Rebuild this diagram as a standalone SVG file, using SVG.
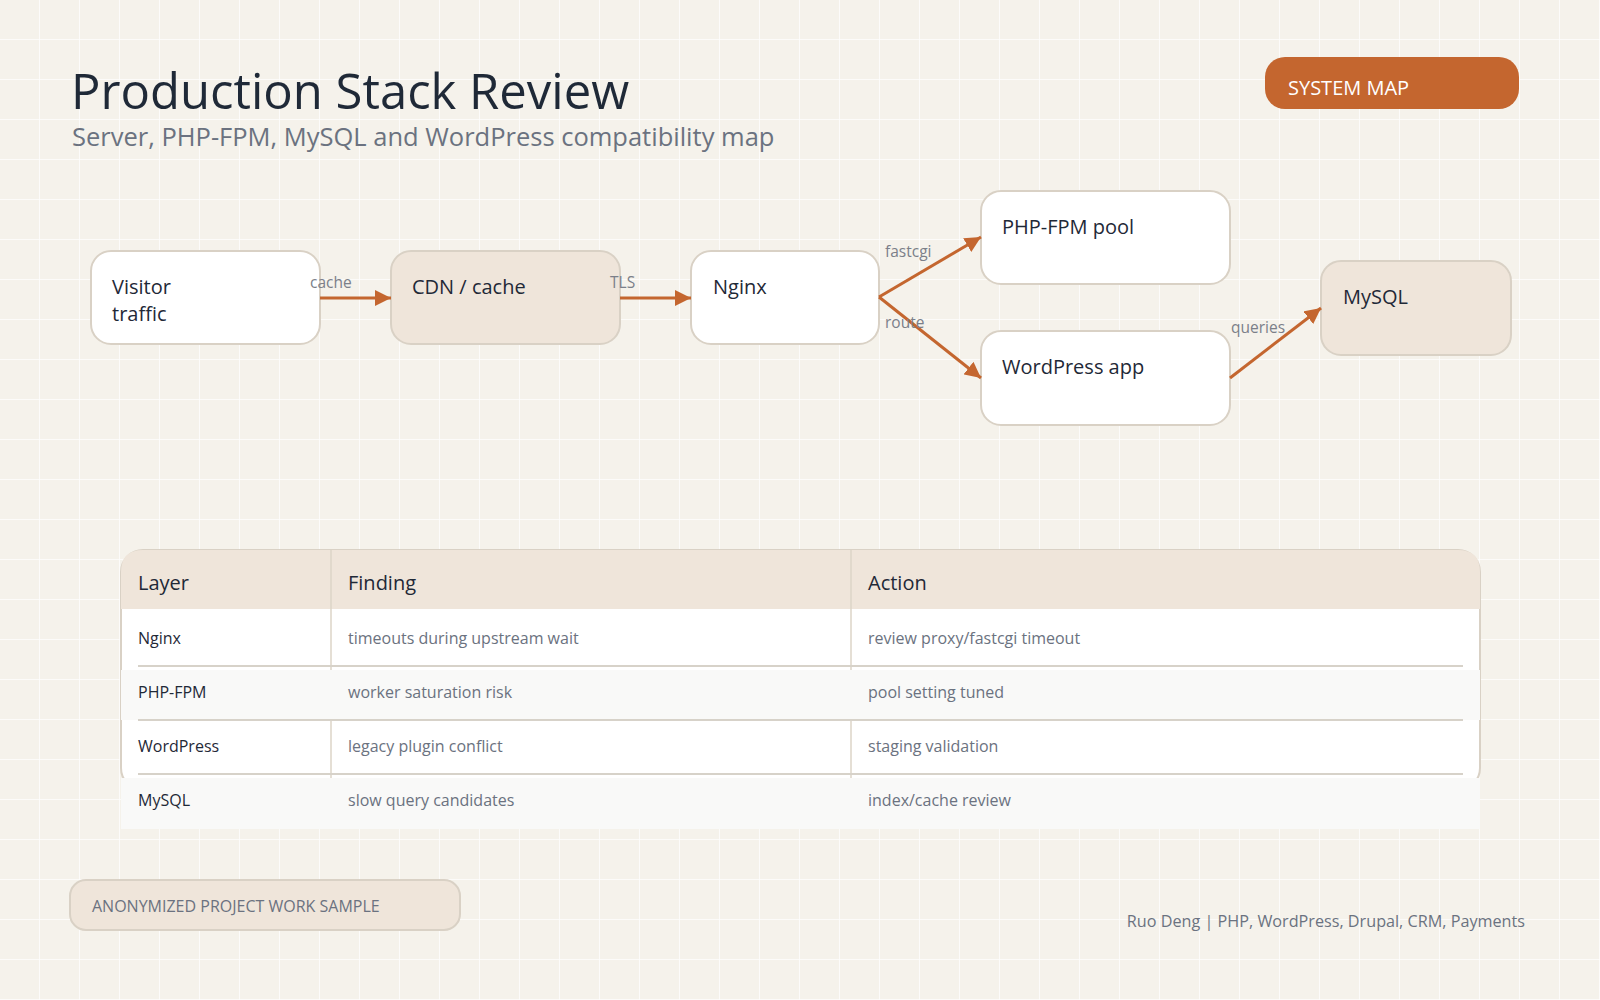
<svg xmlns="http://www.w3.org/2000/svg" width="1600" height="1000" viewBox="0 0 1600 1000">
<defs>
<pattern id="grid" x="0" y="0" width="40" height="40" patternUnits="userSpaceOnUse">
<path d="M40 0 V40 M0 40 H40" fill="none" stroke="#ffffff" stroke-width="1.6" opacity="0.9"/>
</pattern>
<marker id="arr" viewBox="0 0 10 10" refX="10" refY="5" markerWidth="16" markerHeight="16" markerUnits="userSpaceOnUse" orient="auto">
<path d="M0 0 L10 5 L0 10 z" fill="#c4662f"/>
</marker>
<style>
text{font-family:"Open Sans","Noto Sans","DejaVu Sans",sans-serif}
.node{stroke:#d9d1c5;stroke-width:2}
.w{fill:#ffffff}
.t{fill:#efe5da}
.nl{font-size:20px;fill:#1f2937}
.el{font-size:15.5px;fill:#7b7f89}
.edge{stroke:#c4662f;stroke-width:3;fill:none;marker-end:url(#arr)}
.th{font-size:20px;fill:#1f2937}
.c1{font-size:16px;fill:#1f2937}
.c2{font-size:16px;fill:#6b7280}
.sep{stroke:#d7d2c9;stroke-width:2}
.div{stroke:#ddd4c7;stroke-width:1.5}
</style>
</defs>
<rect width="1600" height="1000" fill="#f5f2eb"/>
<rect width="1600" height="1000" fill="url(#grid)"/>

<g id="header">
<text x="71" y="109" font-size="49" fill="#1f2937">Production Stack Review</text>
<text x="72" y="146" font-size="25.5" fill="#6b7280">Server, PHP-FPM, MySQL and WordPress compatibility map</text>
</g>
<g id="badge">
<rect x="1265" y="57" width="254" height="52" rx="20" fill="#c4662f"/>
<text x="1288" y="95" font-size="20" fill="#ffffff">SYSTEM MAP</text>
</g>

<g id="n-visitor">
<rect class="node w" x="91" y="251" width="229" height="93" rx="20"/>
<text class="nl" x="112" y="294">Visitor</text>
<text class="nl" x="112" y="321">traffic</text>
</g>
<g id="n-cdn">
<rect class="node t" x="391" y="251" width="229" height="93" rx="20"/>
<text class="nl" x="412" y="294">CDN / cache</text>
</g>
<g id="n-nginx">
<rect class="node w" x="691" y="251" width="188" height="93" rx="20"/>
<text class="nl" x="713" y="294">Nginx</text>
</g>
<g id="n-phpfpm">
<rect class="node w" x="981" y="191" width="249" height="93" rx="20"/>
<text class="nl" x="1002" y="234">PHP-FPM pool</text>
</g>
<g id="n-wordpress">
<rect class="node w" x="981" y="331" width="249" height="94" rx="20"/>
<text class="nl" x="1002" y="374">WordPress app</text>
</g>
<g id="n-mysql">
<rect class="node t" x="1321" y="261" width="190" height="94" rx="20"/>
<text class="nl" x="1343" y="304">MySQL</text>
</g>

<g id="connectors">
<line class="edge" x1="320" y1="298" x2="391" y2="298"/>
<line class="edge" x1="620" y1="298" x2="691" y2="298"/>
<line class="edge" x1="879" y1="297" x2="981" y2="237"/>
<line class="edge" x1="879" y1="297" x2="981" y2="378"/>
<line class="edge" x1="1230" y1="378" x2="1321" y2="308"/>
<text class="el" x="310" y="288">cache</text>
<text class="el" x="610" y="288">TLS</text>
<text class="el" x="885" y="257">fastcgi</text>
<text class="el" x="885" y="328">route</text>
<text class="el" x="1231" y="333">queries</text>
</g>

<g id="table">
<rect x="121" y="550" width="1359" height="240" rx="22" fill="#ffffff" stroke="#d9d1c5" stroke-width="2"/>
<path d="M121 609 V572 Q121 550 143 550 H1458 Q1480 550 1480 572 V609 Z" fill="#efe5da"/>
<line class="div" x1="331" y1="550" x2="331" y2="790"/>
<line class="div" x1="851" y1="550" x2="851" y2="790"/>
<rect x="121" y="670" width="1359" height="50" fill="#f9f9f8"/>
<rect x="121" y="778" width="1359" height="51" fill="#f9f9f8"/>
<line class="sep" x1="138" y1="666" x2="1463" y2="666"/>
<line class="sep" x1="138" y1="720" x2="1463" y2="720"/>
<line class="sep" x1="138" y1="774" x2="1463" y2="774"/>
<text class="th" x="138" y="590">Layer</text>
<text class="th" x="348" y="590">Finding</text>
<text class="th" x="868" y="590">Action</text>
<text class="c1" x="138" y="644">Nginx</text>
<text class="c2" x="348" y="644">timeouts during upstream wait</text>
<text class="c2" x="868" y="644">review proxy/fastcgi timeout</text>
<text class="c1" x="138" y="698">PHP-FPM</text>
<text class="c2" x="348" y="698">worker saturation risk</text>
<text class="c2" x="868" y="698">pool setting tuned</text>
<text class="c1" x="138" y="752">WordPress</text>
<text class="c2" x="348" y="752">legacy plugin conflict</text>
<text class="c2" x="868" y="752">staging validation</text>
<text class="c1" x="138" y="806">MySQL</text>
<text class="c2" x="348" y="806">slow query candidates</text>
<text class="c2" x="868" y="806">index/cache review</text>
</g>

<g id="footer">
<rect x="70" y="880" width="390" height="50" rx="16" fill="#efe5da" stroke="#d9d1c5" stroke-width="2"/>
<text x="92" y="912" font-size="16" fill="#6b7280">ANONYMIZED PROJECT WORK SAMPLE</text>
<text x="1525" y="927" font-size="16.2" fill="#6b7280" text-anchor="end">Ruo Deng | PHP, WordPress, Drupal, CRM, Payments</text>
</g>
</svg>
